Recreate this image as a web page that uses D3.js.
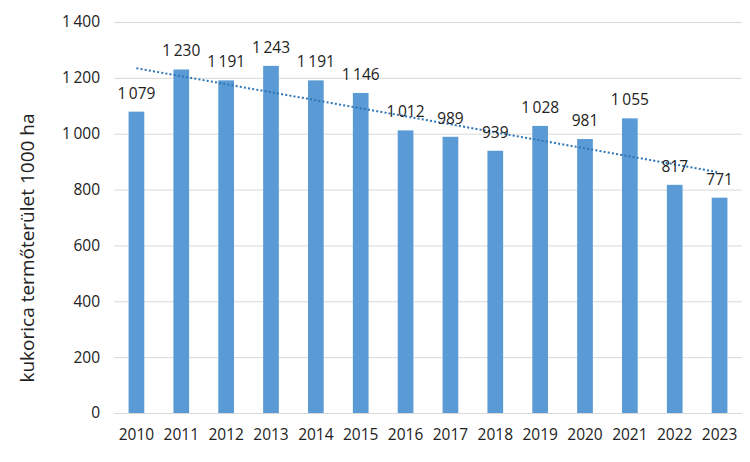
<!DOCTYPE html>
<html><head><meta charset="utf-8">
<script src="https://cdn.jsdelivr.net/npm/d3@7"></script>
<style>body{margin:0;background:#fff}svg{display:block}text{font-family:"Open Sans","Noto Sans",sans-serif}</style>
</head><body>
<svg id="c" width="750" height="462"></svg>
<script>
const years = ["2010","2011","2012","2013","2014","2015","2016","2017","2018","2019","2020","2021","2022","2023"];
const values = [1079,1230,1191,1243,1191,1146,1012,989,939,1028,981,1055,817,771];
const yTicks = [0,200,400,600,800,1000,1200,1400];
const yTitle = "kukorica termőterület 1000 ha";

const svg = d3.select("#c");
const m = {l:114, r:8, t:22, b:49};
const W = 750, H = 462;
const x = d3.scaleBand().domain(years).range([m.l, W - m.r]).paddingInner(0.65).paddingOuter(0.325);
const y = d3.scaleLinear().domain([0,1400]).range([H - m.b, m.t]);
const fmt = v => d3.format(",")(v).replace(/,/g, "\u2009");

// gridlines
const yAxis = d3.axisLeft(y).tickValues(yTicks).tickSize(-(W - m.r - m.l)).tickPadding(14).tickFormat(fmt);
const gy = svg.append("g").attr("transform", `translate(${m.l},0)`).call(yAxis);
gy.select(".domain").remove();
gy.selectAll(".tick line").attr("stroke", "#d9d9d9").attr("stroke-width", 1);
gy.selectAll(".tick text").attr("font-size", 15.5).attr("fill", "#222").attr("font-family", "'Open Sans',sans-serif");

// bars
svg.append("g").selectAll("rect").data(values).join("rect")
  .attr("x", (d,i) => x(years[i]))
  .attr("width", x.bandwidth())
  .attr("y", d => y(d))
  .attr("height", d => y(0) - y(d))
  .attr("fill", "#5B9BD5");

// x axis
const gx = svg.append("g").attr("transform", `translate(0,${y(0)})`).call(d3.axisBottom(x).tickSize(0).tickPadding(16));
gx.select(".domain").attr("stroke", "#d9d9d9");
gx.selectAll(".tick text").attr("font-size", 15.5).attr("fill", "#222").attr("font-family", "'Open Sans',sans-serif");

// trend line (least squares)
const n = values.length;
const xm = (n - 1) / 2, ym = d3.mean(values);
let sxy = 0, sxx = 0;
values.forEach((v,i) => { sxy += (i - xm) * (v - ym); sxx += (i - xm) * (i - xm); });
const slope = sxy / sxx, icpt = ym - slope * xm;
const cx = i => x(years[i]) + x.bandwidth() / 2;
svg.append("line")
  .attr("x1", cx(0)).attr("y1", y(icpt))
  .attr("x2", cx(n - 1)).attr("y2", y(icpt + slope * (n - 1)))
  .attr("stroke", "#2E75B6").attr("stroke-width", 2).attr("stroke-dasharray", "2,2.2");

// value labels
svg.append("g").selectAll("text").data(values).join("text")
  .attr("x", (d,i) => cx(i))
  .attr("y", d => y(d) - 13)
  .attr("text-anchor", "middle")
  .attr("font-size", 15.5).attr("fill", "#222")
  .text(fmt);

// y title
svg.append("text")
  .attr("transform", `translate(34,248) rotate(-90)`)
  .attr("text-anchor", "middle")
  .attr("font-size", 19).attr("fill", "#222")
  .text(yTitle);
</script>
</body></html>
